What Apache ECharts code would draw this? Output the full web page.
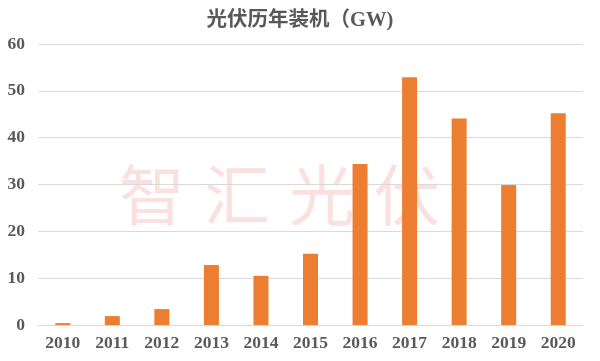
<!DOCTYPE html>
<html><head><meta charset="utf-8">
<script src="https://cdn.jsdelivr.net/npm/echarts@6/dist/echarts.min.js"></script>
<style>html,body{margin:0;padding:0;background:#fff}#c{width:600px;height:361px}</style>
</head><body><div id="c"></div>
<script>
const categories = ['2010','2011','2012','2013','2014','2015','2016','2017','2018','2019','2020'];
const installs = [0.4, 1.9, 3.4, 12.8, 10.5, 15.2, 34.4, 52.9, 44.1, 29.9, 45.2];
const yTicks = { min: 0, max: 60, interval: 10 };
const titleText = '光伏历年装机（GW)';
const watermark = ['智','汇','光','伏'];

const chart = echarts.init(document.getElementById('c'), null, {renderer:'canvas'});
chart.setOption({
  animation: false,
  backgroundColor: '#fff',
  title: {
    text: titleText, left: 'center', top: 5,
    textStyle: { fontFamily: '"Liberation Serif", "Noto Sans CJK SC", serif', fontWeight: 'bold', fontSize: 20.5, color: '#595959' }
  },
  graphic: watermark.map((ch, i) => ({
    type: 'text', left: 119 + i * 85, top: 162, z: -10, silent: true,
    style: { text: ch, font: '66px "Noto Sans CJK SC"', fill: '#fbe0e0' }
  })),
  grid: { left: 38, right: 17, top: 44, bottom: 36 },
  xAxis: {
    type: 'category', data: categories,
    axisLine: { lineStyle: { color: '#d9d9d9' } },
    axisTick: { show: false },
    axisLabel: { color: '#595959', fontFamily: '"Liberation Serif", serif', fontWeight: 'bold', fontSize: 17.5, margin: 9 }
  },
  yAxis: {
    type: 'value', min: yTicks.min, max: yTicks.max, interval: yTicks.interval,
    axisLine: { show: false }, axisTick: { show: false },
    splitLine: { lineStyle: { color: '#d9d9d9' } },
    axisLabel: { color: '#595959', fontFamily: '"Liberation Serif", serif', fontWeight: 'bold', fontSize: 17.5, margin: 13 }
  },
  series: [{
    type: 'bar', data: installs, barWidth: 15,
    itemStyle: { color: '#ED7D31' }, z: 5
  }]
});
</script></body></html>
